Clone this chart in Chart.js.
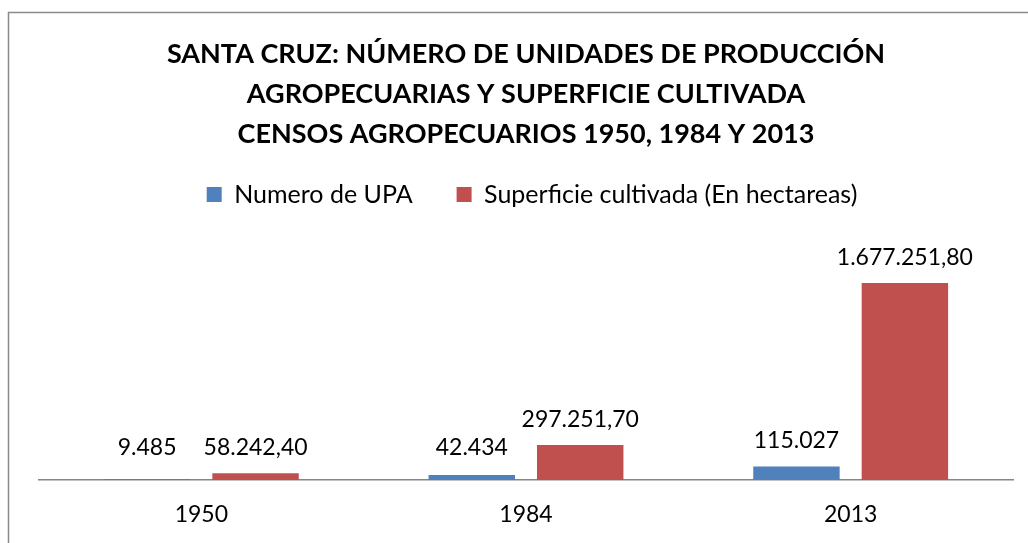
<!DOCTYPE html>
<html>
<head>
<meta charset="utf-8">
<script src="https://cdn.jsdelivr.net/npm/chart.js@4"></script>
<style>
    html, body { margin: 0; padding: 0; background: #ffffff; overflow: hidden; }
    #wrap { width: 1028px; height: 543px; position: relative; }
</style>
</head>
<body>
<div id="wrap"><canvas id="chart" width="1028" height="543"></canvas></div>
<script>
// Datos
const years = ['1950', '1984', '2013'];
const numeroUPA = [9485, 42434, 115027];
const superficie = [58242.40, 297251.70, 1677251.80];
const seriesNames = ['Numero de UPA', 'Superficie cultivada (En hectareas)'];
const titleLines = [
    'SANTA CRUZ: NÚMERO DE UNIDADES DE PRODUCCIÓN',
    'AGROPECUARIAS Y SUPERFICIE CULTIVADA',
    'CENSOS AGROPECUARIOS 1950, 1984 Y 2013'
];
const labelDecimals = [0, 2];

// Formato con punto de miles y coma decimal
function formatEs(value, decimals) {
    const parts = value.toFixed(decimals).split('.');
    parts[0] = parts[0].replace(/\B(?=(\d{3})+(?!\d))/g, '.');
    return parts.join(',');
}

Chart.defaults.font.family = 'Lato, "Open Sans", sans-serif';
Chart.defaults.color = '#000000';

// Marco gris (solo arriba e izquierda, el resto queda fuera de la imagen)
const framePlugin = {
    id: 'frame',
    beforeDraw(chart) {
        const ctx = chart.ctx;
        ctx.save();
        ctx.strokeStyle = '#8a8a8a';
        ctx.lineWidth = 1.5;
        ctx.beginPath();
        ctx.moveTo(8.5, chart.height);
        ctx.lineTo(8.5, 12.5);
        ctx.lineTo(chart.width, 12.5);
        ctx.stroke();
        ctx.restore();
    }
};

// Espacio extra debajo de la leyenda y leyenda algo corrida a la derecha
const legendTweaks = {
    id: 'legendTweaks',
    beforeInit(chart) {
        const legend = chart.legend;
        const originalFit = legend.fit;
        legend.fit = function () {
            originalFit.call(this);
            this.height += 28;
        };
        const originalDraw = legend.draw;
        legend.draw = function () {
            this.ctx.save();
            this.ctx.translate(6, 0);
            originalDraw.apply(this, arguments);
            this.ctx.restore();
        };
    }
};

// Etiquetas de valores encima de cada barra (las barras muy bajas
// llevan la etiqueta un poco más arriba, como en el original)
const valueLabels = {
    id: 'valueLabels',
    afterDatasetsDraw(chart) {
        const ctx = chart.ctx;
        const minTop = chart.chartArea.bottom - 7;
        ctx.save();
        ctx.font = '23px Lato, "Open Sans", sans-serif';
        ctx.fillStyle = '#000000';
        ctx.textAlign = 'center';
        ctx.textBaseline = 'alphabetic';
        chart.data.datasets.forEach((ds, i) => {
            const meta = chart.getDatasetMeta(i);
            meta.data.forEach((bar, j) => {
                const top = Math.min(bar.y, minTop);
                ctx.fillText(formatEs(ds.data[j], labelDecimals[i]), bar.x, top - 18);
            });
        });
        ctx.restore();
    }
};

new Chart(document.getElementById('chart'), {
    type: 'bar',
    data: {
        labels: years,
        datasets: [{
            label: seriesNames[0],
            data: numeroUPA,
            backgroundColor: '#4f81bd',
            borderWidth: 0
        }, {
            label: seriesNames[1],
            data: superficie,
            backgroundColor: '#c0504d',
            borderWidth: 0
        }]
    },
    options: {
        responsive: false,
        animation: false,
        categoryPercentage: 0.668,
        barPercentage: 0.797,
        layout: {
            padding: { left: 39, right: 15, top: 0, bottom: 0 }
        },
        plugins: {
            title: {
                display: true,
                text: titleLines,
                color: '#000000',
                font: { size: 27, weight: 'bold', lineHeight: 40 / 27 },
                padding: { top: 34, bottom: -16 }
            },
            legend: {
                display: true,
                position: 'top',
                labels: {
                    boxWidth: 15,
                    boxHeight: 15,
                    padding: 44,
                    color: '#000000',
                    font: { size: 25 }
                }
            },
            tooltip: { enabled: false }
        },
        scales: {
            x: {
                grid: { display: false, drawTicks: false },
                border: { display: true, color: '#868686', width: 1.5 },
                ticks: { padding: 21, color: '#000000', font: { size: 23 } },
                afterFit(scale) {
                    scale.height = 63;
                }
            },
            y: {
                display: false,
                min: 0,
                max: 2000000
            }
        }
    },
    plugins: [framePlugin, legendTweaks, valueLabels]
});
</script>
</body>
</html>
